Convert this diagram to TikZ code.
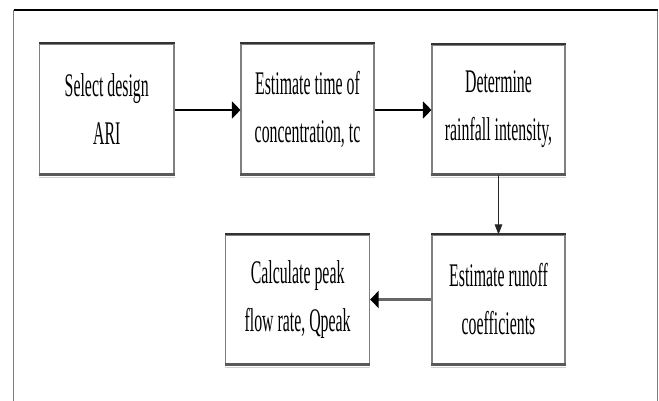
\documentclass[tikz,border=0pt]{standalone}
\usepackage{fontspec}
\setmainfont{Liberation Serif}
\newfontfamily\boxfont[FakeStretch=0.48]{Liberation Serif}
\usetikzlibrary{arrows.meta}
\tikzset{
  box/.style={draw=black!50, line width=1.1pt, rectangle, inner sep=0pt, align=center,
    font=\boxfont\fontsize{33}{48}\selectfont, text=black},
  topedge/.style={draw=black!80, line width=2pt},
  botedge/.style={draw=black!65, line width=2.6pt},
  shadowedge/.style={draw=black!18, line width=1.2pt},
  harrow/.style={draw=black, line width=2pt, -{Triangle[length=8.5pt,width=17pt]}},
  harrowgray/.style={draw=black!60, line width=3pt, -{Triangle[length=8.5pt,width=17pt,fill=black,color=black]}},
  varrow/.style={draw=black!85, line width=1pt, -{Triangle[length=10pt,width=7.5pt]}},
  frameside/.style={draw=black!50, line width=1.5pt},
  frametop/.style={draw=black, line width=2.2pt}
}
\begin{document}
\begin{tikzpicture}[x=1pt,y=-1pt]
\useasboundingbox[fill=white] (0,0) rectangle (659,401);
% frame
\coordinate (fbl) at (13.5,402);
\coordinate (ftl) at (13.5,10);
\coordinate (ftr) at (657.5,10);
\coordinate (fbr) at (657.5,402);
\draw[frameside] (fbl) -- (ftl);
\draw[frameside] (ftr) -- (fbr);
\draw[frametop] (ftl) -- (ftr);
% boxes
\node[box, minimum width=134.5pt, minimum height=130pt] (b1) at (106.75,109) {Select design\\ARI};
\node[box, minimum width=133pt, minimum height=130pt] (b2) at (307.5,109) {Estimate time of\\concentration, tc};
\node[box, minimum width=133pt, minimum height=129pt] (b3) at (498.5,109.5) {Determine\\rainfall intensity,};
\node[box, minimum width=133pt, minimum height=129pt] (b4) at (498.5,299.5) {Estimate runoff\\coefficients};
\node[box, minimum width=144pt, minimum height=129pt] (b5) at (297.6,299.5) {Calculate peak\\flow rate, Qpeak};
\foreach \b in {b1,b2,b3,b4,b5}{
  \draw[topedge] (\b.north west) -- (\b.north east);
  \draw[shadowedge] ([yshift=-2.8pt]\b.south west) -- ([yshift=-2.8pt]\b.south east);
  \draw[botedge] (\b.south west) -- (\b.south east);
}
% connectors
\draw[harrow] ([yshift=-1pt]b1.east) -- ([yshift=-1pt]b2.west);
\draw[harrow] ([yshift=-1pt]b2.east) -- ([yshift=-1pt]b2.east -| b3.west);
\draw[varrow] (b3.south) -- (b4.north);
\draw[harrowgray] (b4.west) -- (b5.east);
\end{tikzpicture}
\end{document}
